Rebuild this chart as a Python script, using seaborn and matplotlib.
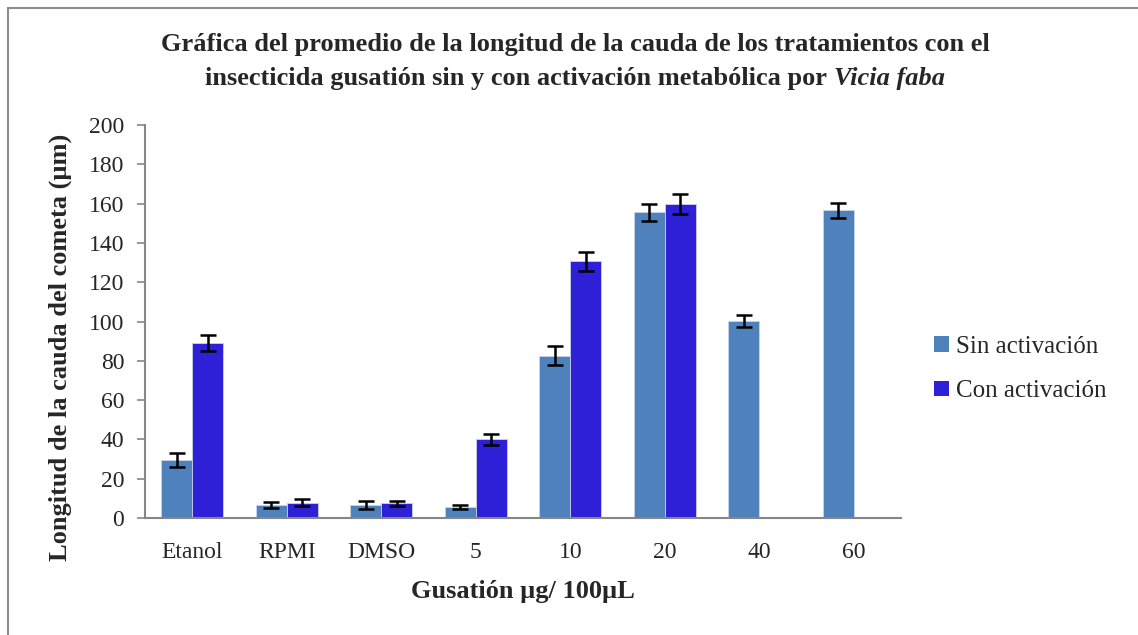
import numpy as np
import pandas as pd
import matplotlib
matplotlib.use("Agg")
import matplotlib.pyplot as plt
from matplotlib.patches import Patch, Rectangle
import seaborn as sns

# Mean comet tail length (µm) and standard error per treatment
categories = ["Etanol", "RPMI", "DMSO", "5", "10", "20", "40", "60"]
series = ["Sin activación", "Con activación"]
sin_vals = [29.5, 6.6, 6.6, 5.6, 82.6, 155.6, 100.3, 156.6]
sin_err = [3.7, 1.3, 2.0, 1.2, 4.8, 4.3, 3.2, 3.7]
con_vals = [89.0, 7.8, 7.6, 40.0, 130.6, 159.8, np.nan, np.nan]
con_err = [4.0, 1.7, 1.3, 2.7, 4.8, 5.2, np.nan, np.nan]

colors = ["#4F81BD", "#2E20D6"]

df = pd.DataFrame({
    "cat": categories * 2,
    "serie": [series[0]] * len(categories) + [series[1]] * len(categories),
    "val": sin_vals + con_vals,
})

sns.set_style("white")
serif = ["Liberation Serif", "DejaVu Serif"]
plt.rcParams["font.family"] = serif

fig = plt.figure(figsize=(11.38, 6.35), dpi=100)
ax = fig.add_axes([145 / 1138, 1 - 518 / 635, 756 / 1138, 393 / 635])

sns.barplot(data=df, x="cat", y="val", hue="serie", order=categories,
            hue_order=series, palette=colors, width=0.66, gap=0,
            errorbar=None, ax=ax, legend=False, saturation=1,
            edgecolor="#c9d4ea", linewidth=0.6)

# error bars from the same values used for the bars (missing bars are skipped)
for cont, vals, errs in zip(ax.containers, [sin_vals, con_vals], [sin_err, con_err]):
    v = np.array(vals, dtype=float)
    e = np.array(errs, dtype=float)
    m = ~np.isnan(v)
    xs = [b.get_x() + b.get_width() / 2 for b in cont]
    ax.errorbar(xs, v[m], yerr=e[m], fmt="none", ecolor="black",
                elinewidth=1.8, capsize=6, capthick=1.8, zorder=5)

ax.set_ylim(0, 200)
ax.set_xlim(-0.5, len(categories) - 0.5)
ax.set_yticks(np.arange(0, 201, 20))
ax.tick_params(axis="y", which="both", left=True, length=6, width=1.2,
               color="#868686", labelsize=17, pad=9, direction="out")
ax.tick_params(axis="x", bottom=False, labelsize=17, pad=14)
for s in ["top", "right"]:
    ax.spines[s].set_visible(False)
for s in ["left", "bottom"]:
    ax.spines[s].set_color("#868686")
    ax.spines[s].set_linewidth(1.5)

ax.set_xlabel("Gusatión µg/ 100µL", fontsize=19, fontweight="bold", labelpad=12)
ax.set_ylabel("Longitud de la cauda del cometa (µm)", fontsize=19, fontweight="bold")
ax.yaxis.set_label_coords(-0.097, 0.433)

handles = [Patch(facecolor=c, edgecolor="none") for c in colors]
fig.legend(handles, series, loc="center left", bbox_to_anchor=(934 / 1138, 1 - 369 / 635),
           frameon=False, fontsize=18, handlelength=0.6, handleheight=0.6,
           handletextpad=0.3, labelspacing=0.9, borderaxespad=0, borderpad=0)

# title: two centred lines, species name in bold italic
cx = 575 / 1138
fig.text(cx, 1 - 45 / 635, "Gráfica del promedio de la longitud de la cauda de los tratamientos con el",
         ha="center", va="center", fontsize=19, fontweight="bold")
renderer = fig.canvas.get_renderer()
p1 = "insecticida gusatión sin y con activación metabólica por "
p2 = "Vicia faba"
y2 = 1 - 79 / 635
t1 = fig.text(0, y2, p1, ha="left", va="center", fontsize=19, fontweight="bold")
t2 = fig.text(0, y2, p2, ha="left", va="center", fontsize=19, fontweight="bold",
              fontstyle="italic")
w1 = t1.get_window_extent(renderer).width / fig.bbox.width
w2 = t2.get_window_extent(renderer).width / fig.bbox.width
x0 = cx - (w1 + w2) / 2
t1.set_x(x0)
t2.set_x(x0 + w1)

# chart area frame
fig.patches.append(Rectangle((8 / 1138, -0.05), 1.2, 1 - 8 / 635 + 0.05,
                             transform=fig.transFigure, fill=False,
                             edgecolor="#8c8c8c", linewidth=1.5))

fig.savefig("out.png", dpi=100)
